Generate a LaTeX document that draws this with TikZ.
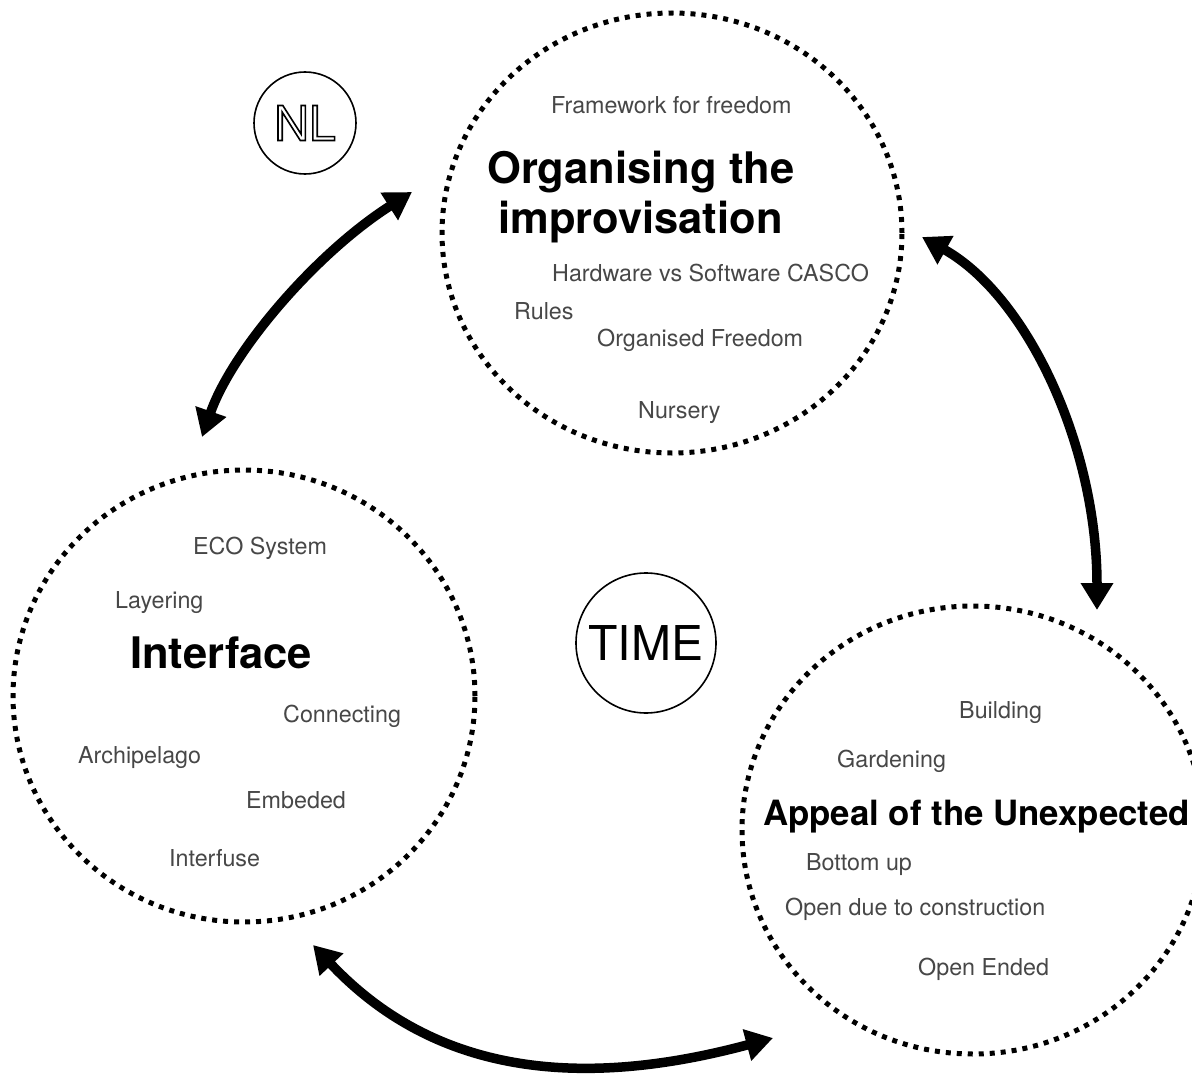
\documentclass[tikz,border=0pt]{standalone}
\usepackage{fontspec}
\setmainfont{TeX Gyre Heros}
\usetikzlibrary{arrows.meta,shapes.geometric}
\newcommand{\hollow}[1]{\special{pdf:literal direct 1 Tr 1.6 w}#1\special{pdf:literal direct 0 Tr}}

\begin{document}
\begin{tikzpicture}[x=1pt, y=-1pt,
  zone/.style={draw, ellipse, line width=5pt, dash pattern=on 5pt off 6pt, inner sep=0pt},
  ring/.style={draw, circle, line width=1.6pt, inner sep=0pt},
  kw/.style={font=\fontsize{23.3}{28}\selectfont, text=black!72, anchor=west,
             inner sep=0pt, text height=0.72em, text depth=0pt, yshift=-5pt},
  title/.style={font=\fontsize{#1}{#1}\bfseries\selectfont, anchor=west,
                inner sep=0pt, text height=0.72em, text depth=0pt, yshift=-10pt},
  arr/.style={{Triangle[length=27pt,width=31pt]}-{Triangle[length=27pt,width=31pt]},
              line width=9.5pt},
]
\useasboundingbox (0,0) rectangle (1192,1081);
\clip (0,0) rectangle (1192,1081);

%% Three dotted zones
\node[zone, minimum width=460pt, minimum height=440pt] (org) at (672,233) {};
\node[zone, minimum width=462pt, minimum height=452pt] (ifc) at (244,696) {};
\node[zone, minimum width=462pt, minimum height=448pt] (app) at (973,830) {};

%% Small rings
\node[ring, minimum size=102pt] (nl)   at (305,123)
  {\fontsize{48}{48}\selectfont\hollow{NL}};
\node[ring, minimum size=140pt] (time) at (646,643)
  {\fontsize{48}{48}\selectfont TIME};

%% Top zone: organising the improvisation
\node[kw]          (fff)   at (551,105) {Framework for freedom};
\node[title=43.5]  (orgT1) at (487,170) {Organising the};
\node[title=43.5]  (orgT2) at (498,220) {improvisation};
\node[kw]          (hw)    at (552,273) {Hardware vs Software CASCO};
\node[kw]          (rules) at (514,311) {Rules};
\node[kw]          (ofree) at (597,338) {Organised Freedom};
\node[kw]          (nurs)  at (638,410) {Nursery};

%% Left zone: interface
\node[kw]          (eco)   at (193,546) {ECO System};
\node[kw]          (layer) at (115,600) {Layering};
\node[title=43.5]  (ifcT)  at (130,655) {Interface};
\node[kw]          (conn)  at (283,714) {Connecting};
\node[kw]          (arch)  at (78,755)  {Archipelago};
\node[kw]          (emb)   at (246,800) {Embeded};
\node[kw]          (infu)  at (169,858) {Interfuse};

%% Right zone: appeal of the unexpected
\node[kw]          (build) at (959,710) {Building};
\node[kw]          (gard)  at (837,759) {Gardening};
\node[title=34.8]  (appT)  at (763,812) {Appeal of the Unexpected};
\node[kw]          (bup)   at (806,862) {Bottom up};
\node[kw]          (odc)   at (785,907) {Open due to construction};
\node[kw]          (oend)  at (918,967) {Open Ended};

%% Arrow ends
\coordinate (ifcN) at (202,437);
\coordinate (orgW) at (412,192);
\coordinate (orgE) at (922,237);
\coordinate (appN) at (1097,610);
\coordinate (ifcS) at (313,945);
\coordinate (appW) at (773,1038);

%% Arrows
\draw[arr] (ifcN) .. controls (232,351) and (316,253) .. (orgW);
\draw[arr] (orgE) .. controls (1027,296) and (1097,445) .. (appN);
\draw[arr] (ifcS) .. controls (427,1066) and (565,1094) .. (appW);

\end{tikzpicture}
\end{document}
